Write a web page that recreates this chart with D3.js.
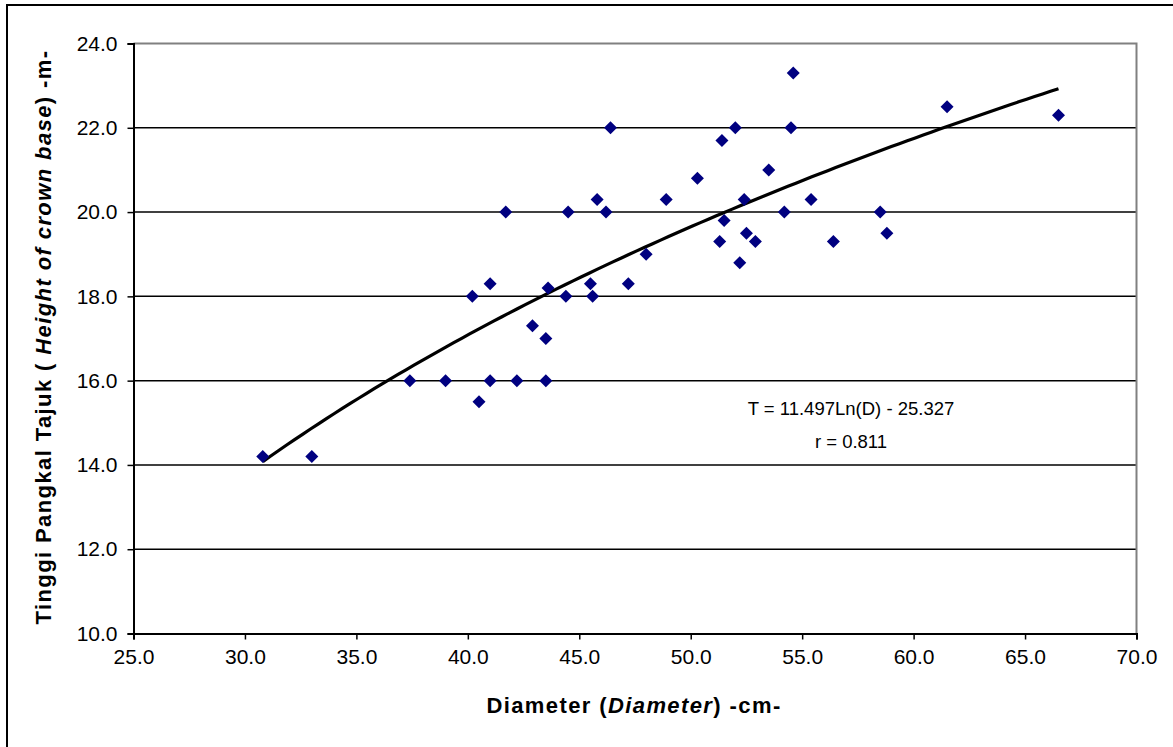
<!DOCTYPE html>
<html>
<head>
<meta charset="utf-8">
<script src="https://cdn.jsdelivr.net/npm/d3@7"></script>
<style>
  body { margin: 0; background: #fff; }
  svg { display: block; font-family: Arial, "Liberation Sans", sans-serif; }
</style>
</head>
<body>
<svg id="chart"></svg>
<script>
// diameter (cm) and height of crown base (m)
const diameter = [30.8, 33.0, 37.4, 39.0, 40.2, 40.5, 41.0, 41.0, 41.7, 42.2, 42.9, 43.5, 43.5, 43.6,
                  44.4, 44.5, 45.5, 45.6, 45.8, 46.2, 46.4, 47.2, 48.0, 48.9, 50.3, 51.3, 51.4, 51.5,
                  52.0, 52.2, 52.4, 52.5, 52.9, 53.5, 54.2, 54.5, 54.6, 55.4, 56.4, 58.5, 58.8, 61.5, 66.5];
const crownBase = [14.2, 14.2, 16.0, 16.0, 18.0, 15.5, 18.3, 16.0, 20.0, 16.0, 17.3, 17.0, 16.0, 18.2,
                   18.0, 20.0, 18.3, 18.0, 20.3, 20.0, 22.0, 18.3, 19.0, 20.3, 20.8, 19.3, 21.7, 19.8,
                   22.0, 18.8, 20.3, 19.5, 19.3, 21.0, 20.0, 22.0, 23.3, 20.3, 19.3, 20.0, 19.5, 22.5, 22.3];
const xTicks = [25, 30, 35, 40, 45, 50, 55, 60, 65, 70];
const yTicks = [10, 12, 14, 16, 18, 20, 22, 24];
// logarithmic trendline from the chart: T = a*Ln(D) + b
const trendA = 11.497;
const trendB = -25.327;
const equationLines = ["T = 11.497Ln(D) - 25.327", "r = 0.811"];

const W = 1173, H = 747;
const plotL = 133.5, plotR = 1136.5, plotT = 43.5, plotB = 633.5;

const svg = d3.select("#chart").attr("width", W).attr("height", H);

// outer frame (only top and left edges visible)
svg.append("path")
  .attr("d", `M7,${H} V5 H${W}`)
  .attr("fill", "none").attr("stroke", "#000").attr("stroke-width", 2);

const x = d3.scaleLinear().domain([25, 70]).range([plotL, plotR]);
const y = d3.scaleLinear().domain([10, 24]).range([plotB, plotT]);

// gridlines
svg.append("g")
  .selectAll("line")
  .data(yTicks.filter(t => t > 10 && t < 24))
  .join("line")
  .attr("x1", plotL).attr("x2", plotR)
  .attr("y1", d => y(d)).attr("y2", d => y(d))
  .attr("stroke", "#000").attr("stroke-width", 1.5);

// plot area border top/right in grey
svg.append("path")
  .attr("d", `M${plotL},${plotT} H${plotR} V${plotB}`)
  .attr("fill", "none").attr("stroke", "#808080").attr("stroke-width", 2);

// axes
const xAxis = svg.append("g")
  .attr("transform", `translate(0,${plotB})`)
  .call(d3.axisBottom(x).tickValues(xTicks).tickFormat(d3.format(".1f")).tickSize(6).tickPadding(5));
const yAxis = svg.append("g")
  .attr("transform", `translate(${plotL},0)`)
  .call(d3.axisLeft(y).tickValues(yTicks).tickFormat(d3.format(".1f")).tickSize(6).tickPadding(10));

[xAxis, yAxis].forEach(g => {
  g.select(".domain").attr("stroke", "#000").attr("stroke-width", 2);
  g.selectAll(".tick line").attr("stroke", "#000").attr("stroke-width", 1.5);
  g.selectAll(".tick text")
    .attr("fill", "#000")
    .style("font-family", "Arial, 'Liberation Sans', sans-serif")
    .style("font-size", "21px");
});
xAxis.selectAll(".tick text").attr("dy", "0.95em");

// trendline
const dMin = d3.min(diameter), dMax = d3.max(diameter);
const trendPts = d3.range(0, 101).map(i => {
  const d = dMin + (dMax - dMin) * i / 100;
  return [d, trendA * Math.log(d) + trendB];
});
svg.append("path")
  .datum(trendPts)
  .attr("d", d3.line().x(d => x(d[0])).y(d => y(d[1])))
  .attr("fill", "none").attr("stroke", "#000").attr("stroke-width", 3.2);

// points
svg.append("g")
  .selectAll("path")
  .data(diameter.map((d, i) => [d, crownBase[i]]))
  .join("path")
  .attr("transform", d => `translate(${x(d[0])},${y(d[1])})`)
  .attr("d", "M0,-6.5 L6.5,0 L0,6.5 L-6.5,0 Z")
  .attr("fill", "#000080");

// equation
svg.append("g")
  .selectAll("text")
  .data(equationLines)
  .join("text")
  .attr("x", 851)
  .attr("y", (d, i) => 415 + i * 33)
  .attr("text-anchor", "middle")
  .style("font-size", "18.5px")
  .text(d => d);

// x title
const xt = svg.append("text")
  .attr("x", 634).attr("y", 713)
  .attr("text-anchor", "middle")
  .style("font-size", "22px").style("font-weight", "bold")
  .attr("letter-spacing", 1.4);
xt.append("tspan").text("Diameter (");
xt.append("tspan").style("font-style", "italic").text("Diameter");
xt.append("tspan").text(") -cm-");

// y title
const yt = svg.append("text")
  .attr("transform", `translate(51,337) rotate(-90)`)
  .attr("text-anchor", "middle")
  .style("font-size", "22px").style("font-weight", "bold")
  .attr("letter-spacing", 1.4);
yt.append("tspan").text("Tinggi Pangkal Tajuk ( ");
yt.append("tspan").style("font-style", "italic").text("Height of crown base");
yt.append("tspan").text(") -m-");
</script>
</body>
</html>
